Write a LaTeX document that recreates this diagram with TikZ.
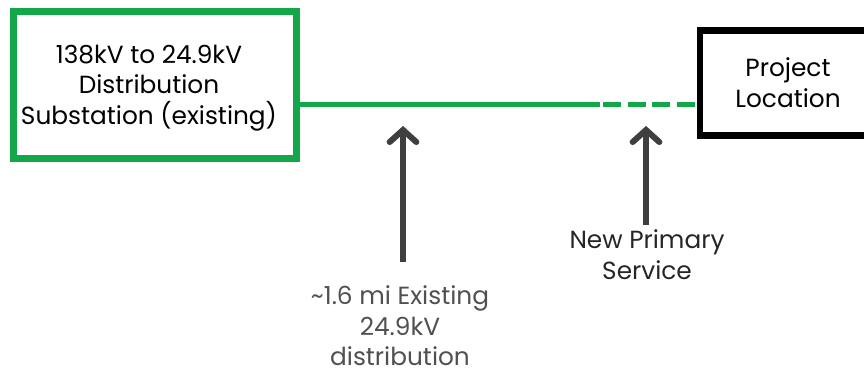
\documentclass[tikz,border=0pt]{standalone}
\usepackage{fontspec}
\setmainfont{Poppins}
\usetikzlibrary{arrows.meta,positioning}

\definecolor{linegreen}{HTML}{12A84A}
\definecolor{arrowgray}{HTML}{3F3F3F}
\definecolor{textgray}{HTML}{505050}

\begin{document}
\begin{tikzpicture}[x=0.75pt,y=-0.75pt,
	box/.style = {draw, line width=4.8pt, inner sep=0pt},
	label/.style = {align=center, inner sep=0pt, font=\fontsize{18.6}{23}\selectfont},
	feeder/.style = {linegreen, line width=3.8pt},
	pointer/.style = {arrowgray, line width=4.5pt,
		-{Straight Barb[length=9pt, width=20pt, line width=4.5pt, line cap=round]}}]
	\useasboundingbox (0,0) rectangle (864,373);
	\clip (0,0) rectangle (864,373);

	\node [box, linegreen, minimum width=212pt, minimum height=110pt] (sub) at (155,85) {};
	\node [box, minimum width=135pt, minimum height=79pt] (proj) at (790,83) {};
	\node [label] (subl) at (149,88) {138kV to 24.9kV\\Distribution\\Substation (existing)};
	\node [label] (projl) at (788,83) {Project\\Location};

	\coordinate (split) at (600,104.5);
	\draw [feeder] (sub.east |- split) -- (split);
	\draw [feeder, dash pattern=on 13.5pt off 5pt] (split) ++(3,0) -- (proj.west |- split);

	\node [label, text=textgray] (dist) at (400,326) {\textasciitilde1.6 mi Existing\\24.9kV\\distribution};
	\node [label, text=black!85] (svc) at (647,255) {New Primary\\Service};

	\coordinate (tip1) at (403,126);
	\coordinate (tip2) at (646,126);
	\draw [pointer] (dist.north -| tip1) ++(0,-24) -- (tip1);
	\draw [pointer] (svc.north -| tip2) ++(0,-5) -- (tip2);
\end{tikzpicture}
\end{document}
